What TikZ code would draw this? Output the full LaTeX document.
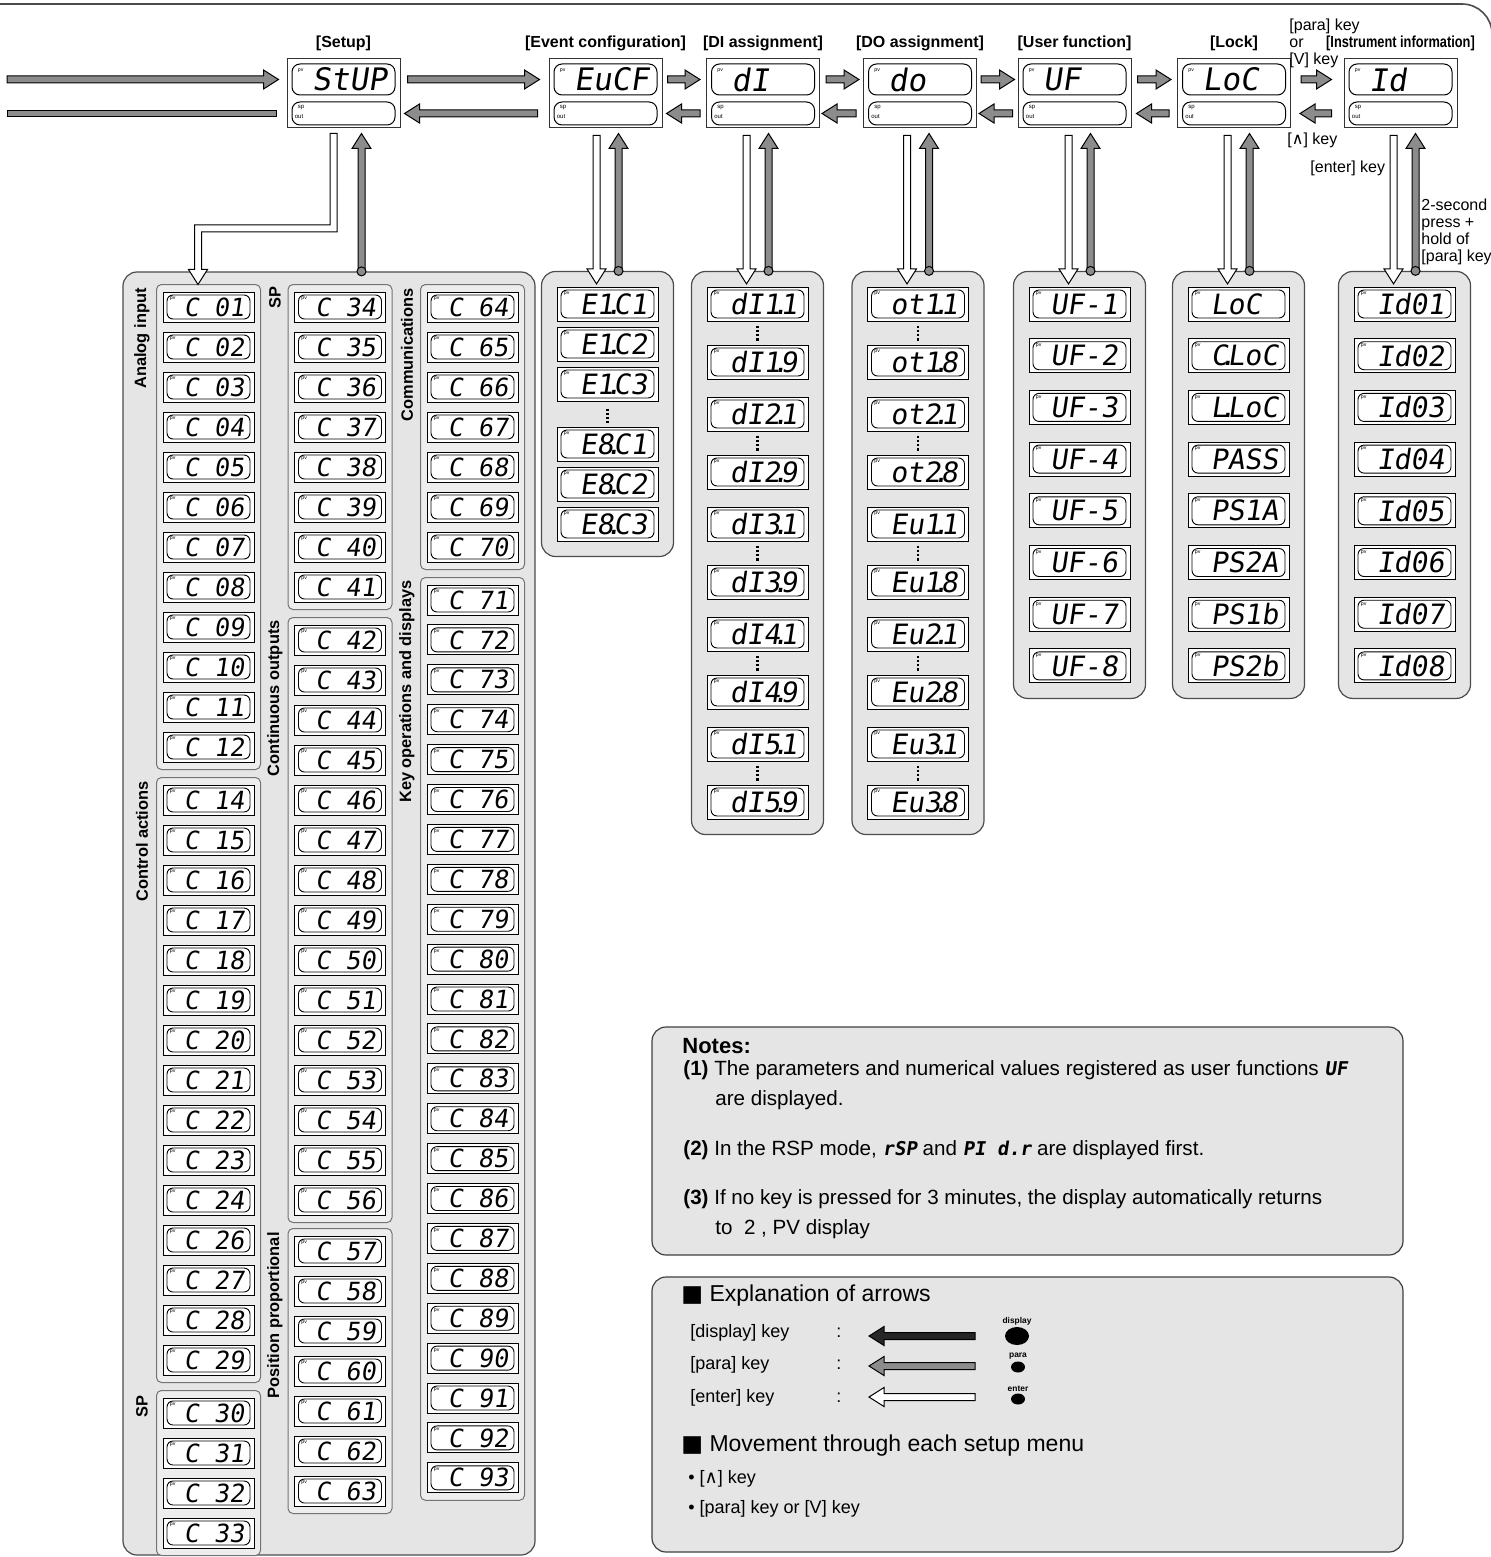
\documentclass[tikz,border=0pt]{standalone}
\usepackage{fontspec}
\setmainfont{Liberation Sans}
\newfontfamily\segfont[FakeSlant=0.15]{DejaVu Sans Mono}
\newfontfamily\symfont{DejaVu Sans}
\newfontfamily\narrowfont[FakeStretch=0.8]{Liberation Sans}
\usetikzlibrary{positioning,calc,fit,shapes.geometric}
\pgfdeclarelayer{background}
\pgfsetlayers{background,main}
\colorlet{keygray}{black!45}
\colorlet{panelgray}{black!10}
\tikzstyle{panelbox} = [draw=black!70, fill=panelgray, rounded corners=7pt, line width=0.6pt, inner sep=7.5pt]
\tikzstyle{groupbox} = [draw=black!55, fill=black!7, rounded corners=2.5pt, line width=0.5pt, inner xsep=3pt, inner ysep=3.5pt]
\tikzstyle{pvtag} = [inner sep=0pt, minimum size=0pt, draw=none, fill=none, font=\fontsize{2.6}{2.6}\selectfont]
\tikzstyle{lcdframe} = [draw, fill=white, line width=0.5pt, inner sep=0pt,
  path picture={\draw[line width=0.45pt, rounded corners=3pt]
    ([shift={(2pt,1.5pt)}]path picture bounding box.south west) rectangle
    ([shift={(-2pt,-1.5pt)}]path picture bounding box.north east);},
  label={[pvtag, anchor=north west, xshift=3.5pt, yshift=-2.6pt]north west:pv}]
\tikzstyle{lcd} = [lcdframe, minimum width=50.5pt, minimum height=17pt, font=\segfont\fontsize{14}{14}\selectfont]
\tikzstyle{lcdc} = [lcdframe, minimum width=45.5pt, minimum height=15pt, font=\segfont\fontsize{12.5}{12.5}\selectfont]
\tikzstyle{topbox} = [draw=black!80, fill=white, line width=0.5pt, minimum width=56.5pt, minimum height=34.5pt, inner sep=0pt]
\tikzstyle{topupper} = [draw, fill=white, line width=0.5pt, rounded corners=4pt, minimum width=51.5pt, minimum height=15.5pt, inner sep=0pt,
  font=\segfont\fontsize{15.5}{15.5}\selectfont,
  label={[pvtag, anchor=north west, xshift=3pt, yshift=-2.5pt]north west:pv}]
\tikzstyle{toplower} = [draw, fill=white, line width=0.5pt, rounded corners=4pt, minimum width=51.5pt, minimum height=11.5pt, inner sep=0pt,
  label={[pvtag, font=\fontsize{3}{3}\selectfont, anchor=north west, xshift=3pt, yshift=-1.5pt]north west:sp},
  label={[pvtag, font=\fontsize{3}{3}\selectfont, anchor=north west, xshift=1.5pt, yshift=-6.5pt]north west:out}]
\tikzstyle{menutitle} = [inner sep=0pt, font=\bfseries\fontsize{8}{9}\selectfont]
\tikzstyle{keytag} = [inner sep=0pt, anchor=west, font=\fontsize{8}{8.5}\selectfont]
\tikzstyle{grouptag} = [inner sep=0pt, rotate=90, anchor=east, font=\bfseries\fontsize{8.2}{9}\selectfont]
\tikzstyle{notetext} = [inner sep=0pt, anchor=west, font=\fontsize{10.3}{12}\selectfont]
\tikzstyle{notehead} = [notetext, font=\bfseries\fontsize{11}{13}\selectfont]
\tikzstyle{notebox} = [draw=black!75, fill=panelgray, rounded corners=7pt, line width=0.6pt, minimum width=375.5pt]
\tikzstyle{exphead} = [inner sep=0pt, anchor=west, font=\fontsize{11.5}{13}\selectfont]
\tikzstyle{exprow} = [inner sep=0pt, anchor=west, font=\fontsize{9}{10}\selectfont]
\tikzstyle{dottag} = [inner sep=0pt, font=\bfseries\fontsize{4.2}{4.5}\selectfont]
\tikzstyle{keydot} = [ellipse, fill=black, inner sep=0pt]
\tikzstyle{jdot} = [circle, draw=black, fill=keygray, line width=0.5pt, inner sep=0pt, minimum size=4.5pt]
\tikzstyle{dotrow} = [line width=1.2pt, dash pattern=on 1.2pt off 0.9pt]
\tikzstyle{parakey} = [fill=keygray, draw=black, line width=0.5pt]
\tikzstyle{enterkey} = [fill=white, draw=black, line width=0.5pt]
\tikzstyle{dispkey} = [fill=black!85, draw=black, line width=0.5pt]
% decimal point of a segment display, and four display cells
\newcommand\sdot{\makebox[0pt]{.}}
\newcommand\lcdtext[2][6pt]{\hspace*{#1}\makebox[2.41em][l]{#2}}
% block arrow from tail #2 to tip #3
\newcommand\keyarrow[3][parakey]{%
  \coordinate (ka) at #2;
  \coordinate (kb) at #3;
  \coordinate (kh) at ($(kb)!7.5pt!(ka)$);
  \filldraw[#1] ($(ka)!1.75pt!90:(kb)$) -- ($(kh)!1.75pt!90:(kb)$) -- ($(kh)!4.75pt!90:(kb)$) -- (kb)
    -- ($(kh)!4.75pt!-90:(kb)$) -- ($(kh)!1.75pt!-90:(kb)$) -- ($(ka)!1.75pt!-90:(kb)$) -- cycle;
}
\begin{document}
\begin{tikzpicture}[x=0.5pt, y=-0.5pt]
    \useasboundingbox (0,0) rectangle (1490,1557);
    \draw[black!70, line width=0.8pt, rounded corners=15pt] (0,4) -- (1492,4) -- (1492,90);

    % Place the menu displays
    \foreach \nm/\cx/\txt in {stup/343.5/StUP, eucf/605.5/EuCF, di/763/dI~~, do/920/do~~,
        uf/1074.5/UF~~, loc/1234/LoC~, id/1400.5/Id~~} {
        \node[topbox] (\nm) at (\cx,93.5) {};
        \node[topupper] (\nm-pv) at (\cx,79.5) {\lcdtext{\txt}};
        \node[toplower] (\nm-sp) at (\cx,113.5) {};
    }
    \node[menutitle, above=3.7pt of stup] (stup-title) {[Setup]};
    \node[menutitle, above=3.7pt of eucf] (eucf-title) {[Event configuration]};
    \node[menutitle, above=3.7pt of di] (di-title) {[DI assignment]};
    \node[menutitle, above=3.7pt of do] (do-title) {[DO assignment]};
    \node[menutitle, above=3.7pt of uf] (uf-title) {[User function]};
    \node[menutitle, above=3.7pt of loc] (loc-title) {[Lock]};
    \node[menutitle, font=\narrowfont\bfseries\fontsize{8}{9}\selectfont, above=3.7pt of id] (id-title) {[Instrument information]};

    % Setup parameters
    \foreach \n [count=\i from 0] in {01,02,03,04,05,06,07,08,09,10,11,12}
        \node[lcdc] (c\n) at (208.5,{307+40*\i}) {\lcdtext[5.5pt]{C~\n}};
    \foreach \n [count=\i from 0] in {14,15,16,17,18,19,20,21,22,23,24,26,27,28,29}
        \node[lcdc] (c\n) at (208.5,{800+40*\i}) {\lcdtext[5.5pt]{C~\n}};
    \foreach \n [count=\i from 0] in {30,31,32,33}
        \node[lcdc] (c\n) at (208.5,{1413+40*\i}) {\lcdtext[5.5pt]{C~\n}};
    \foreach \n [count=\i from 0] in {34,35,36,37,38,39,40,41}
        \node[lcdc] (c\n) at (340,{307+40*\i}) {\lcdtext[5.5pt]{C~\n}};
    \foreach \n [count=\i from 0] in {42,43,44,45,46,47,48,49,50,51,52,53,54,55,56}
        \node[lcdc] (c\n) at (340,{640+40*\i}) {\lcdtext[5.5pt]{C~\n}};
    \foreach \n [count=\i from 0] in {57,58,59,60,61,62,63}
        \node[lcdc] (c\n) at (340,{1251+40*\i}) {\lcdtext[5.5pt]{C~\n}};
    \foreach \n [count=\i from 0] in {64,65,66,67,68,69,70}
        \node[lcdc] (c\n) at (472.5,{307+40*\i}) {\lcdtext[5.5pt]{C~\n}};
    \foreach \n [count=\i from 0] in {71,72,73,74,75,76,77,78,79,80,81,82,83,84,85,86,87,88,89,90,91,92,93}
        \node[lcdc] (c\n) at (472.5,{600+39.9*\i}) {\lcdtext[5.5pt]{C~\n}};
    \node[grouptag] (analog-tag) at (142,288) {Analog input};
    \node[grouptag] (control-tag) at (142,781) {Control actions};
    \node[grouptag] (sp1-tag) at (142,1395) {SP};
    \node[grouptag] (sp2-tag) at (275,286) {SP};
    \node[grouptag] (cont-tag) at (275,620) {Continuous outputs};
    \node[grouptag] (pos-tag) at (275,1232) {Position proportional};
    \node[grouptag] (comm-tag) at (407,288) {Communications};
    \node[grouptag] (keys-tag) at (407,580) {Key operations and displays};

    % Event configuration, DI and DO assignment
    \foreach \t/\y [count=\i] in {E1\sdot C1/304, E1\sdot C2/344, E1\sdot C3/384, E8\sdot C1/444, E8\sdot C2/484, E8\sdot C3/524}
        \node[lcd] (evt\i) at (607.5,\y) {\lcdtext{\t}};
    \draw[dotrow] ($(evt3.south)+(0,7)$) -- ($(evt4.north)+(0,-4)$);
    \foreach \k [count=\i from 0] in {1,...,5} {
        \node[lcd] (di\k1) at (757.5,{304+110*\i}) {\lcdtext{dI\k\sdot 1}};
        \node[lcd] (di\k9) at (757.5,{362+110*\i}) {\lcdtext{dI\k\sdot 9}};
        \draw[dotrow] ($(di\k1.south)+(0,4)$) -- ($(di\k9.north)+(0,-3)$);
    }
    \foreach \p/\k [count=\i from 0] in {ot/1, ot/2, Eu/1, Eu/2, Eu/3} {
        \node[lcd] (\p\k1) at (918,{304+110*\i}) {\lcdtext{\p\k\sdot 1}};
        \node[lcd] (\p\k8) at (918,{362+110*\i}) {\lcdtext{\p\k\sdot 8}};
        \draw[dotrow] ($(\p\k1.south)+(0,4)$) -- ($(\p\k8.north)+(0,-3)$);
    }

    % User function, lock and instrument information
    \foreach \k [count=\i from 0] in {1,...,8}
        \node[lcd] (uf\k) at (1079.5,{304+51.7*\i}) {\lcdtext[4.5pt]{UF-\k}};
    \foreach \t [count=\i from 0] in {LoC~, C\sdot LoC, L\sdot LoC, PASS, PS1A, PS2A, PS1b, PS2b}
        \node[lcd] (loc\i) at (1238.5,{304+51.7*\i}) {\lcdtext{\t}};
    \foreach \k [count=\i from 0] in {1,...,8}
        \node[lcd] (id0\k) at (1404.5,{304+51.7*\i}) {\lcdtext{Id0\k}};

    % Grey panels behind the parameter lists
    \begin{pgfonlayer}{background}
        \node[panelbox, fit={(123,272) (535,1555)}, inner sep=0pt] (p-stup) {};
        \node[panelbox, fit=(evt1)(evt6)] (p-evt) {};
        \node[panelbox, fit=(di11)(di59)] (p-di) {};
        \node[panelbox, fit=(ot11)(Eu38)] (p-do) {};
        \node[panelbox, fit=(uf1)(uf8)] (p-uf) {};
        \node[panelbox, fit=(loc0)(loc7)] (p-loc) {};
        \node[panelbox, fit=(id01)(id08)] (p-id) {};
        \node[groupbox, fit=(c01)(c12)] (g-analog) {};
        \node[groupbox, fit=(c14)(c29)] (g-control) {};
        \node[groupbox, fit=(c30)(c33)] (g-sp1) {};
        \node[groupbox, fit=(c34)(c41)] (g-sp2) {};
        \node[groupbox, fit=(c42)(c56)] (g-cont) {};
        \node[groupbox, fit=(c57)(c63)] (g-pos) {};
        \node[groupbox, fit=(c64)(c70)] (g-comm) {};
        \node[groupbox, fit=(c71)(c93)] (g-keys) {};
    \end{pgfonlayer}

    % Draw edges along the menu row
    \keyarrow{(7,79.5)}{($(stup.west |- stup-pv)+(-8,0)$)}
    \filldraw[parakey] (7,110.5) rectangle ($(stup.west |- stup-sp)+(-10,3)$);
    \keyarrow{($(stup.east |- stup-pv)+(7,0)$)}{($(eucf.west |- eucf-pv)+(-9,0)$)}
    \keyarrow{($(eucf.west |- eucf-sp)+(-11,0)$)}{($(stup.east |- stup-sp)+(4,0)$)}
    \keyarrow{($(eucf.east |- eucf-pv)+(5,0)$)}{($(di.west |- di-pv)+(-6,0)$)}
    \keyarrow{($(di.west |- di-sp)+(-6,0)$)}{($(eucf.east |- eucf-sp)+(4,0)$)}
    \keyarrow{($(di.east |- di-pv)+(6,0)$)}{($(do.west |- do-pv)+(-4,0)$)}
    \keyarrow{($(do.west |- do-sp)+(-7,0)$)}{($(di.east |- di-sp)+(2,0)$)}
    \keyarrow{($(do.east |- do-pv)+(4,0)$)}{($(uf.west |- uf-pv)+(-3,0)$)}
    \keyarrow{($(uf.west |- uf-sp)+(-5,0)$)}{($(do.east |- do-sp)+(2,0)$)}
    \keyarrow{($(uf.east |- uf-pv)+(6,0)$)}{($(loc.west |- loc-pv)+(-6,0)$)}
    \keyarrow{($(loc.west |- loc-sp)+(-8,0)$)}{($(uf.east |- uf-sp)+(5,0)$)}
    \keyarrow{($(loc.east |- loc-pv)+(10,0)$)}{($(id.west |- id-pv)+(-12,0)$)}
    \keyarrow{($(id.west |- id-sp)+(-12,0)$)}{($(loc.east |- loc-sp)+(9,0)$)}

    % Draw edges down to the parameter lists
    \coordinate (sd) at ($(stup.south)+(-10,5)$);
    \coordinate (sk) at ($(sd)+(0,95)$);
    \coordinate (sr) at ($(c01.north)+(-10.5,-7)$);
    \coordinate (sj) at (sk -| sr);
    \filldraw[enterkey] ($(sd)+(-3.5,0)$) -- ($(sk)+(-3.5,-3.5)$) -- ($(sj)+(-3.5,-3.5)$) -- ($(sr)+(-3.5,-15)$)
        -- ($(sr)+(-9.5,-15)$) -- (sr) -- ($(sr)+(9.5,-15)$) -- ($(sr)+(3.5,-15)$)
        -- ($(sj)+(3.5,3.5)$) -- ($(sk)+(3.5,3.5)$) -- ($(sd)+(3.5,0)$) -- cycle;
    \coordinate (su) at ($(stup.south)+(18,5)$);
    \keyarrow{(su |- p-stup.north)}{(su)}
    \node[jdot] (p-stup-dot) at (su |- p-stup.north) {};
    \foreach \bx/\pn in {eucf/p-evt, di/p-di, do/p-do, uf/p-uf, loc/p-loc, id/p-id} {
        \keyarrow[enterkey]{($(\pn.north |- \bx.south)+(-11,7)$)}{($(\pn.north)+(-11,13)$)}
        \keyarrow{($(\pn.north)+(11,0)$)}{($(\pn.north |- \bx.south)+(11,5)$)}
        \node[jdot] (\pn-dot) at ($(\pn.north)+(11,0)$) {};
    }

    % Key names at the instrument information menu
    \node[keytag] (k-para) at (1289,26) {[para] key};
    \node[keytag] (k-or) at (1289,43) {or};
    \node[keytag] (k-down) at (1289,60) {[V] key};
    \node[keytag] (k-up) at (1287,140) {[{\symfont ∧}] key};
    \node[keytag] (k-enter) at (1310,168) {[enter] key};
    \node[keytag, anchor=north west, align=left, font=\fontsize{8}{8.5}\selectfont] (k-hold) at (1421,199)
        {2-second\\press +\\hold of\\{}[para] key};

    % Notes
    \node[notebox, minimum height=114pt] (notes) at (1027.5,1141) {};
    \node[notehead] (n-head) at (682,1046) {Notes:};
    \node[notetext] (n-1) at (683,1070) {\textbf{(1)} The parameters and numerical values registered as user functions {\segfont\bfseries\fontsize{9.5}{12}\selectfont UF}};
    \node[notetext] (n-1b) at (715,1100) {are displayed.};
    \node[notetext] (n-2) at (683,1150) {\textbf{(2)} In the RSP mode, {\segfont\bfseries\fontsize{9.5}{12}\selectfont rSP} and {\segfont\bfseries\fontsize{9.5}{12}\selectfont PI d.r} are displayed first.};
    \node[notetext] (n-3) at (683,1199) {\textbf{(3)} If no key is pressed for 3 minutes, the display automatically returns};
    \node[notetext] (n-3b) at (715,1229) {to\ \ 2 , PV display};

    % Explanation of arrows
    \node[notebox, minimum height=137.5pt] (legend) at (1027.5,1414.5) {};
    \node[exphead] (x-head) at (681,1296) {{\symfont ■} Explanation of arrows};
    \node[exprow] (x-disp) at (690,1333) {[display] key};
    \node[exprow] (x-disp-c) at (836,1333) {:};
    \keyarrow[dispkey]{(975,1336)}{(869,1336)}
    \node[keydot, minimum width=12pt, minimum height=9pt] (d-disp) at (1017,1336) {};
    \node[dottag, above=0.6pt of d-disp] (d-disp-tag) {display};
    \node[exprow] (x-para) at (690,1365) {[para] key};
    \node[exprow] (x-para-c) at (836,1365) {:};
    \keyarrow{(975,1366)}{(869,1366)}
    \node[keydot, minimum width=7pt, minimum height=5.5pt] (d-para) at (1018,1367) {};
    \node[dottag, above=0.6pt of d-para] (d-para-tag) {para};
    \node[exprow] (x-enter) at (690,1398) {[enter] key};
    \node[exprow] (x-enter-c) at (836,1398) {:};
    \keyarrow[enterkey]{(975,1397)}{(869,1397)}
    \node[keydot, minimum width=7pt, minimum height=5.5pt] (d-enter) at (1018,1399) {};
    \node[dottag, above=0.6pt of d-enter] (d-enter-tag) {enter};
    \node[exphead] (x-move) at (681,1446) {{\symfont ■} Movement through each setup menu};
    \node[exprow] (x-up) at (688,1479) {• [{\symfont ∧}] key};
    \node[exprow] (x-down) at (688,1509) {• [para] key or [V] key};
\end{tikzpicture}
\end{document}
